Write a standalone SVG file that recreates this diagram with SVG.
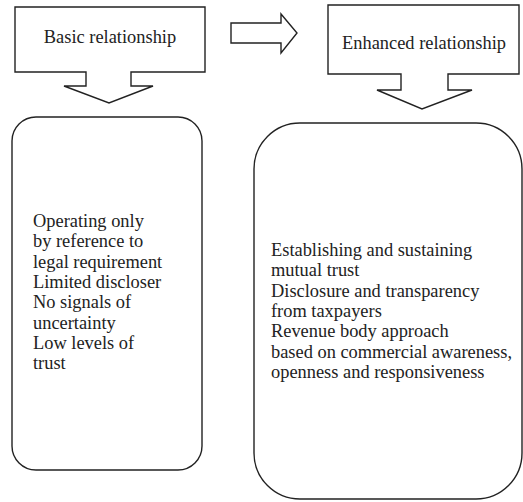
<svg xmlns="http://www.w3.org/2000/svg" width="523" height="502" viewBox="0 0 523 502">
<style>
.s{fill:#fff;stroke:#222;stroke-width:1.4;stroke-linejoin:miter}
.t{font-family:"Liberation Serif","Times New Roman",serif;font-size:18.4px;fill:#222}
</style>
<rect width="523" height="502" fill="#fff"/>
<g id="basic">
<path class="s" d="M15,7 H205 V72 H131 V86 H153 L109,103 L64,86 H86 V72 H15 Z"/>
<text class="t" x="110" y="43" text-anchor="middle">Basic relationship</text>
</g>
<g id="enhanced">
<path class="s" d="M328,5 H519 V74 H448 V90 H472 L422,109 L377,90 H401 V74 H328 Z"/>
<text class="t" x="424" y="49" text-anchor="middle">Enhanced relationship</text>
</g>
<g id="connectors">
<path class="s" d="M231,23 H281 V14 L297,33 L281,53 V43 H231 Z"/>
</g>
<g id="basic-details">
<rect class="s" x="12" y="117" width="190" height="353" rx="24" ry="24"/>
<text class="t" x="33" y="227">
<tspan x="33" y="227">Operating only</tspan>
<tspan x="33" y="247.3">by reference to</tspan>
<tspan x="33" y="267.6">legal requirement</tspan>
<tspan x="33" y="287.9">Limited discloser</tspan>
<tspan x="33" y="308.2">No signals of</tspan>
<tspan x="33" y="328.5">uncertainty</tspan>
<tspan x="33" y="348.8">Low levels of</tspan>
<tspan x="33" y="369.1">trust</tspan>
</text>
</g>
<g id="enhanced-details">
<rect class="s" x="254" y="123" width="268" height="376" rx="46" ry="46"/>
<text class="t" x="271" y="256">
<tspan x="271" y="256">Establishing and sustaining</tspan>
<tspan x="271" y="276.3">mutual trust</tspan>
<tspan x="271" y="296.6">Disclosure and transparency</tspan>
<tspan x="271" y="316.9">from taxpayers</tspan>
<tspan x="271" y="337.2">Revenue body approach</tspan>
<tspan x="271" y="357.5">based on commercial awareness,</tspan>
<tspan x="271" y="377.8">openness and responsiveness</tspan>
</text>
</g>
</svg>
